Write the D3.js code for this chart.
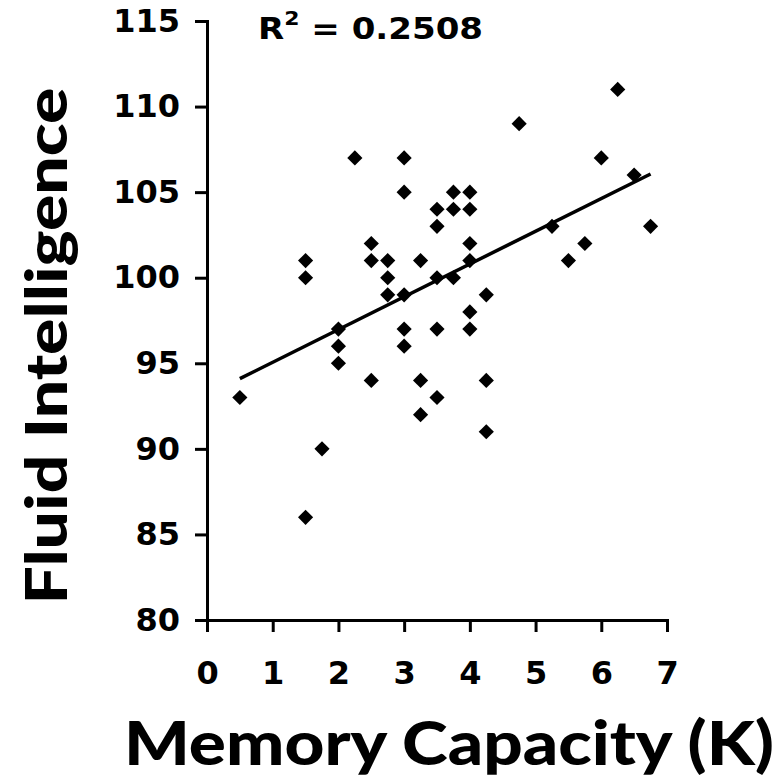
<!DOCTYPE html>
<html>
<head>
<meta charset="utf-8">
<script src="https://cdn.jsdelivr.net/npm/d3@7"></script>
<style>
  body { margin: 0; background: #fff; }
  svg { display: block; }
  .tick text { font-family: "DejaVu Sans", Verdana, sans-serif; font-weight: bold; }
</style>
</head>
<body>
<div id="chart"></div>
<script>
// Memory capacity (K) vs fluid intelligence, one entry per subject
const memoryK = [
  0.5,
  1.5, 1.5, 1.5,
  1.75,
  2, 2, 2,
  2.25,
  2.5, 2.5, 2.5,
  2.75, 2.75, 2.75,
  3, 3, 3, 3, 3,
  3.25, 3.25, 3.25,
  3.5, 3.5, 3.5, 3.5, 3.5,
  3.75, 3.75, 3.75,
  4, 4, 4, 4, 4, 4,
  4.25, 4.25, 4.25,
  4.75, 5.25, 5.5, 5.75, 6, 6.25, 6.5, 6.75
];
const fluidIQ = [
  93,
  101, 100, 86,
  90,
  97, 96, 95,
  107,
  102, 101, 94,
  101, 100, 99,
  107, 105, 99, 97, 96,
  101, 94, 92,
  104, 103, 100, 97, 93,
  105, 104, 100,
  105, 104, 102, 101, 98, 97,
  99, 94, 91,
  109, 103, 101, 102, 107, 111, 106, 103
];
const xTicks = [0, 1, 2, 3, 4, 5, 6, 7];
const yTicks = [80, 85, 90, 95, 100, 105, 110, 115];
const rSquaredLabel = "0.2508";

const points = memoryK.map((k, i) => ({ k: k, iq: fluidIQ[i] }));

const W = 782, H = 777;
const svg = d3.select('#chart').append('svg')
  .attr('width', W)
  .attr('height', H);

const x = d3.scaleLinear().domain([0, 7]).range([207, 667]);
const y = d3.scaleLinear().domain([80, 115]).range([620, 21]);

// Axes
const yAxis = svg.append('g')
  .attr('transform', `translate(${x(0)},0)`)
  .call(d3.axisLeft(y).tickValues(yTicks).tickFormat(d3.format('d')).tickSize(12).tickPadding(15));

const xAxis = svg.append('g')
  .attr('transform', `translate(0,${y(80)})`)
  .call(d3.axisBottom(x).tickValues(xTicks).tickFormat(d3.format('d')).tickSize(12).tickPadding(29));

[yAxis, xAxis].forEach(g => {
  g.selectAll('path, line').attr('stroke', '#000').attr('stroke-width', 3);
  g.selectAll('text').attr('fill', '#000').style('font-size', '32px');
});

// Least squares fit line
const mx = d3.mean(memoryK), my = d3.mean(fluidIQ);
const sxy = d3.sum(points, d => (d.k - mx) * (d.iq - my));
const sxx = d3.sum(points, d => (d.k - mx) * (d.k - mx));
const slope = sxy / sxx;
const intercept = my - slope * mx;
const [kMin, kMax] = d3.extent(memoryK);

svg.append('line')
  .attr('x1', x(kMin))
  .attr('y1', y(intercept + slope * kMin))
  .attr('x2', x(kMax))
  .attr('y2', y(intercept + slope * kMax))
  .attr('stroke', '#000')
  .attr('stroke-width', 3.5);

// Diamond markers
const diamond = d3.symbol().type(d3.symbolSquare).size(115);
svg.selectAll('.pt')
  .data(points)
  .enter()
  .append('path')
  .attr('class', 'pt')
  .attr('d', diamond)
  .attr('transform', d => `translate(${x(d.k)},${y(d.iq)}) rotate(45)`)
  .attr('fill', '#000');

// R squared label
const rText = svg.append('text')
  .attr('x', 258)
  .attr('y', 39)
  .attr('textLength', 225)
  .attr('lengthAdjust', 'spacingAndGlyphs')
  .style('font-family', '"DejaVu Sans", Verdana, sans-serif')
  .style('font-weight', 'bold')
  .style('font-size', '31px')
  .attr('fill', '#000');
rText.append('tspan').text('R');
rText.append('tspan').attr('dy', -14).style('font-size', '20px').text('2');
rText.append('tspan').attr('dy', 14).text(' = ' + rSquaredLabel);

// Axis titles
svg.append('text')
  .attr('x', 124)
  .attr('y', 765)
  .attr('textLength', 650)
  .attr('lengthAdjust', 'spacingAndGlyphs')
  .style('font-family', 'Lato, "Open Sans", sans-serif')
  .style('font-weight', 900)
  .style('font-size', '60px')
  .attr('fill', '#000')
  .text('Memory Capacity (K)');

svg.append('text')
  .attr('transform', 'translate(67,346) rotate(-90)')
  .attr('text-anchor', 'middle')
  .attr('textLength', 517)
  .attr('lengthAdjust', 'spacingAndGlyphs')
  .style('font-family', 'Lato, "Open Sans", sans-serif')
  .style('font-weight', 900)
  .style('font-size', '57px')
  .attr('fill', '#000')
  .text('Fluid Intelligence');
</script>
</body>
</html>
